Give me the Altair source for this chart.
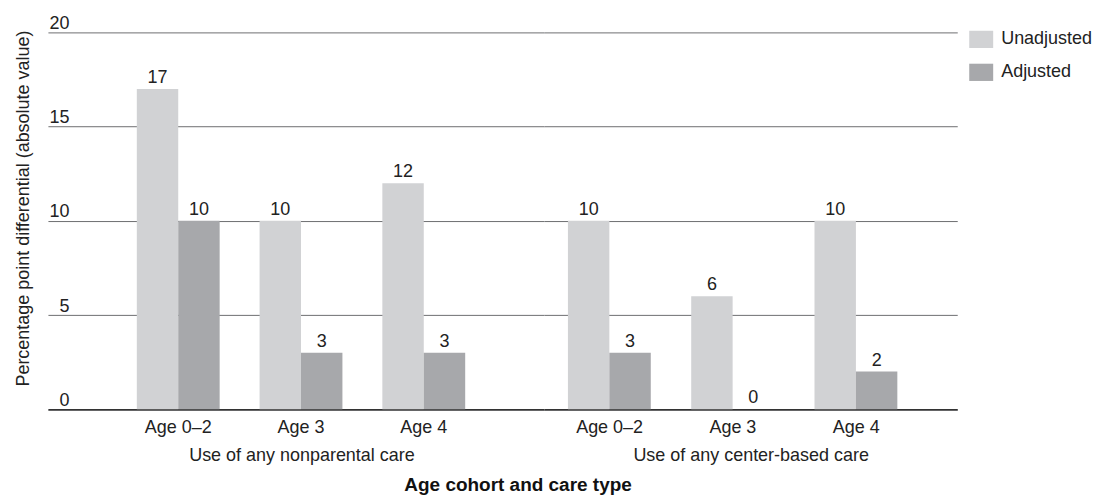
import altair as alt
import pandas as pd

care_types = ["Use of any nonparental care", "Use of any center-based care"]
ages = ["Age 0–2", "Age 3", "Age 4"]
unadjusted = [17, 10, 12, 10, 6, 10]
adjusted = [10, 3, 3, 3, 0, 2]
measures = ["Unadjusted", "Adjusted"]
colors = ["#d1d2d4", "#a7a8ab"]

rows = []
for i, care in enumerate(care_types):
    for j, age in enumerate(ages):
        k = i * 3 + j
        rows.append({"care": care, "age": age, "measure": "Unadjusted", "value": unadjusted[k]})
        rows.append({"care": care, "age": age, "measure": "Adjusted", "value": adjusted[k]})
df = pd.DataFrame(rows)

FONT = "Liberation Sans"
ycol = "#6d6e70"

y_scale = alt.Scale(domain=[0, 20])
color_enc = alt.Color(
    "measure:N",
    sort=measures,
    scale=alt.Scale(domain=measures, range=colors),
    legend=alt.Legend(
        title=None,
        orient="none",
        legendX=923,
        legendY=-5,
        symbolType="M-1,-0.72H1V0.72H-1Z",
        symbolSize=576,
        symbolStrokeWidth=0,
        symbolOpacity=1,
        labelFontSize=18,
        labelFont=FONT,
        labelColor="#222",
        labelOffset=8,
        rowPadding=12,
        padding=0,
    ),
)


def panel(care, width, pin, pout, align, title_x, first):
    sub = df[df["care"] == care]
    x_enc = alt.X(
        "age:N",
        sort=ages,
        scale=alt.Scale(paddingInner=pin, paddingOuter=pout, align=align),
        axis=alt.Axis(
            title=care,
            labelAngle=0,
            labelFontSize=18,
            labelFont=FONT,
            labelColor="#222",
            labelBaseline="alphabetic",
            labelPadding=23,
            ticks=False,
            tickSize=0,
            domainColor="#333",
            domainWidth=1.5,
            titleFontSize=18,
            titleFont=FONT,
            titleFontWeight="normal",
            titleColor="#222",
            titleX=title_x,
            titleY=51,
            titleAlign="center",
            titleBaseline="alphabetic",
        ),
    )
    if first:
        y_axis = alt.Axis(
            title="Percentage point differential (absolute value)",
            values=[0, 5, 10, 15, 20],
            grid=True,
            gridColor=ycol,
            gridWidth=1,
            domain=False,
            ticks=False,
            tickSize=0,
            labelAlign="right",
            labelPadding=-21,
            labelBaseline="alphabetic",
            labelOffset=-4,
            labelFontSize=18,
            labelFont=FONT,
            labelColor="#222",
            titleFontSize=18,
            titleFont=FONT,
            titleFontWeight="normal",
            titleColor="#222",
            titleAngle=270,
            titleX=-19,
            titleY=176,
            titleAlign="center",
            titleBaseline="alphabetic",
        )
    else:
        y_axis = alt.Axis(
            title=None,
            values=[0, 5, 10, 15, 20],
            labels=False,
            grid=True,
            gridColor=ycol,
            gridWidth=1,
            domain=False,
            ticks=False,
            tickSize=0,
        )
    y_enc = alt.Y("value:Q", scale=y_scale, axis=y_axis)
    xo = alt.XOffset("measure:N", sort=measures, scale=alt.Scale(paddingInner=0, paddingOuter=0))
    base = alt.Chart(sub)
    bars = base.mark_bar().encode(x=x_enc, xOffset=xo, y=y_enc, color=color_enc)
    labels = base.mark_text(
        baseline="alphabetic", dy=-6, fontSize=18, font=FONT, color="#222"
    ).encode(x=x_enc, xOffset=xo, y=y_enc, text=alt.Text("value:Q"))
    return alt.layer(bars, labels).properties(width=width, height=377.5)


c1 = panel(care_types[0], 497, 0.3252, 0.683, 0.53, 254, True)
c2 = panel(care_types[1], 414, 0.324, 0.338, 0.287, 207, False)

chart = (
    alt.hconcat(
        c1,
        c2,
        spacing=0,
        title=alt.TitleParams(
            "Age cohort and care type",
            orient="bottom",
            anchor="middle",
            fontSize=19,
            font=FONT,
            fontWeight="bold",
            color="#111",
            offset=12,
            dx=-36,
        ),
    )
    .resolve_scale(y="shared")
    .properties(padding={"left": 6, "top": 6, "right": 0, "bottom": 0})
    .configure(font=FONT)
    .configure_view(stroke=None, strokeWidth=0)
)

chart.save("out.html", embed_options={"renderer": "svg", "actions": False})
